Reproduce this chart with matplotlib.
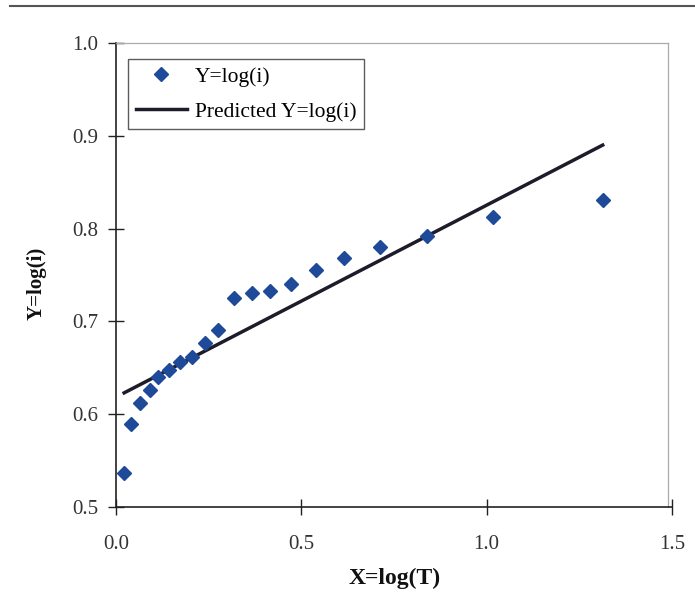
import matplotlib
matplotlib.use("Agg")
import matplotlib.pyplot as plt
from matplotlib.lines import Line2D

plt.rcParams['font.family'] = ['Liberation Serif', 'DejaVu Serif']

# Observed points
log_T = [0.022, 0.040, 0.065, 0.092, 0.113, 0.143, 0.172, 0.205, 0.240, 0.275,
         0.318, 0.367, 0.415, 0.472, 0.539, 0.615, 0.712, 0.838, 1.016, 1.313]
log_i = [0.537, 0.589, 0.612, 0.626, 0.640, 0.648, 0.656, 0.662, 0.677, 0.691,
         0.725, 0.731, 0.733, 0.740, 0.755, 0.768, 0.780, 0.792, 0.812, 0.831]

# Fitted line end points
pred_x = [0.022, 1.313]
pred_y = [0.623, 0.890]

x_ticks = [0.0, 0.5, 1.0, 1.5]
x_tick_labels = ['0.0', '0.5', '1.0', '1.5']
y_ticks = [0.5, 0.6, 0.7, 0.8, 0.9, 1.0]
y_tick_labels = ['0.5', '0.6', '0.7', '0.8', '0.9', '1.0']

fig = plt.figure(figsize=(6.95, 6.03), dpi=100)
ax = fig.add_axes([116 / 695, 1 - 507 / 603, (672 - 116) / 695, (507 - 43) / 603])

ax.plot(log_T, log_i, linestyle='none', marker='D', markersize=7,
        color='#1f4a9a', label='Y=log(i)', zorder=3)
ax.plot(pred_x, pred_y, color='#1c1c2a', linewidth=2.5,
        label='Predicted Y=log(i)', zorder=2)

ax.set_xlim(0, 1.5)
ax.set_ylim(0.5, 1.0)
ax.set_xticks(x_ticks)
ax.set_xticklabels(x_tick_labels)
ax.set_yticks(y_ticks)
ax.set_yticklabels(y_tick_labels)
ax.tick_params(direction='inout', length=12, width=1, colors='#222222',
               labelsize=15, labelcolor='#333333')
ax.tick_params(axis='x', pad=14)
ax.tick_params(axis='y', pad=7)

for side in ('left', 'bottom'):
    ax.spines[side].set_color('#222222')
    ax.spines[side].set_linewidth(1.2)
for side in ('top', 'right'):
    ax.spines[side].set_color('#aaaaaa')
    ax.spines[side].set_linewidth(0.9)
ax.spines['right'].set_position(('data', 1.489))
ax.spines['top'].set_bounds(0, 1.489)

fig.text(395 / 695, 1 - 578 / 603, 'X=log(T)', fontsize=17, fontweight='bold',
         ha='center', va='center', color='#111111')
fig.text(37 / 695, 1 - 283 / 603, 'Y=log(i)', fontsize=15, fontweight='bold',
         ha='center', va='center', rotation=90, color='#111111')

leg = ax.legend(loc='upper left', bbox_to_anchor=(12 / 556, 1 - 16 / 464),
                fontsize=15.5, frameon=True, fancybox=False, borderaxespad=0,
                handlelength=2.4, handletextpad=0.35, borderpad=0.35,
                labelspacing=0.7)
leg.get_frame().set_edgecolor('#333333')
leg.get_frame().set_linewidth(1.0)

# separator rule across the top of the page
fig.add_artist(Line2D([0.015, 1.0], [1 - 6 / 603, 1 - 6 / 603],
                      color='#555555', linewidth=1.5, transform=fig.transFigure))

fig.savefig('out.png', dpi=100)
